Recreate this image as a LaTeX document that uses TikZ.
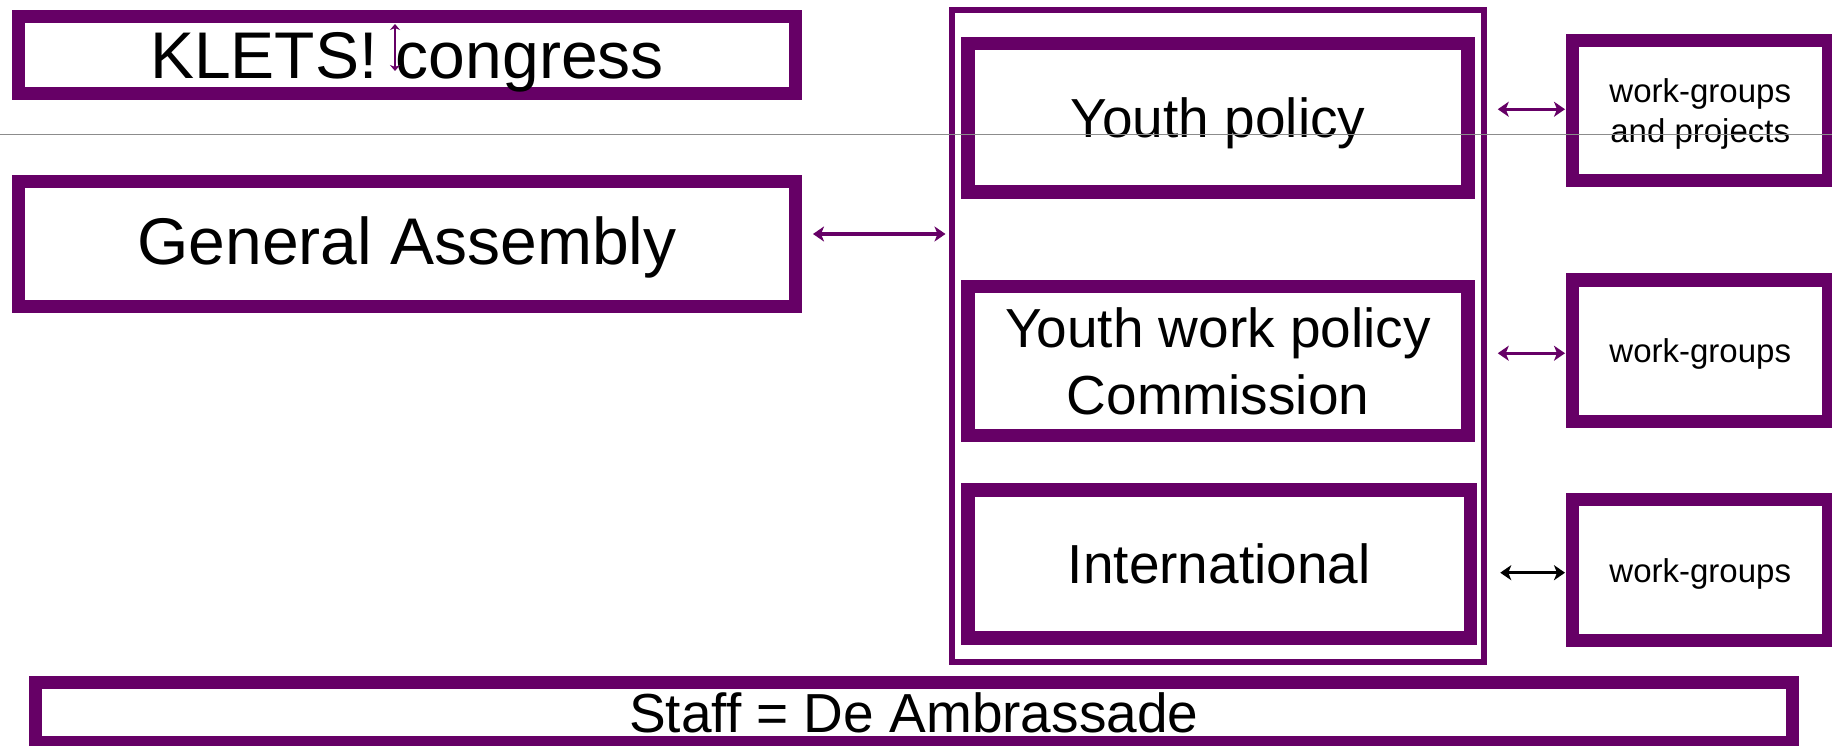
\documentclass[tikz,border=0pt]{standalone}
\usepackage{fontspec}
\setmainfont{Liberation Sans}
\usetikzlibrary{arrows.meta,calc}
\definecolor{klpurple}{HTML}{660066}
\definecolor{klgray}{HTML}{8C8C8C}
\tikzset{
  box/.style={draw=klpurple, line width=13pt, fill=white, rectangle, inner sep=0pt, align=center, text=black},
  bigtext/.style={font=\fontsize{66}{79}\selectfont, text height=47.3pt, text depth=0pt},
  midtext/.style={font=\fontsize{55}{67}\selectfont, text height=39.4pt, text depth=0pt},
  midtwo/.style={font=\fontsize{55}{67}\selectfont, text height=106.4pt, text depth=0pt},
  smalltext/.style={font=\fontsize{33}{40}\selectfont, text height=23.6pt, text depth=0pt},
  smalltwo/.style={font=\fontsize{33}{40}\selectfont, text height=63.6pt, text depth=0pt},
  link/.style={draw=klpurple, line width=3.2pt, {Stealth[length=11pt,width=15pt,inset=3pt]}-{Stealth[length=11pt,width=15pt,inset=3pt]}},
}
\begin{document}
\begin{tikzpicture}[x=1pt,y=-1pt]
\fill[white] (0,0) rectangle (1832,746);
\useasboundingbox (0,0) rectangle (1832,746);

\node[box, bigtext, minimum width=777pt, minimum height=77.5pt] (klets) at (407,55.25) {KLETS! congress};
\node[box, bigtext, text height=40.9pt, minimum width=777pt, minimum height=125pt] (ga) at (407,244) {General Assembly};

\node[box, line width=6pt, fill=none, minimum width=532pt, minimum height=652pt] (cont) at (1218,336) {};
\node[box, midtext, line width=13.5pt, minimum width=500pt, minimum height=148.5pt] (yp) at (1218,117.75) {Youth policy};
\node[box, midtwo, line width=13.5pt, minimum width=500pt, minimum height=149pt] (ywp) at (1218,361) {Youth work policy\\Commission};
\node[box, midtext, line width=13.5pt, minimum width=502.5pt, minimum height=148pt] (intl) at (1219.25,563.9) {International};

\node[box, smalltwo, minimum width=255.5pt, minimum height=140.5pt] (wg1) at (1700.25,110.75) {work-groups\\and projects};
\node[box, smalltext, minimum width=255.5pt, minimum height=141.5pt] (wg2) at (1700.25,350.75) {work-groups};
\node[box, smalltext, minimum width=255.5pt, minimum height=141pt] (wg3) at (1700.25,570.4) {work-groups};

\node[box, midtext, minimum width=1756.5pt, minimum height=60pt] (staff) at (913.75,712.5) {Staff = De Ambrassade};

\draw[link] ($(ga.east)+(11,-10)$) -- ($(ga.east -| cont.west)+(-3.5,-10)$);
\draw[link] ($(yp.east |- wg1.west)+(23,-1.5)$) -- ($(wg1.west)+(-1,-1.5)$);
\draw[link] ($(ywp.east |- wg2.west)+(23,2.5)$) -- ($(wg2.west)+(-1,2.5)$);
\draw[link, draw=black] ($(intl.east |- wg3.west)+(23,2.3)$) -- ($(wg3.west)+(-1,2.3)$);

\coordinate (curtop) at (395,24);
\coordinate (curbot) at (395,71);
\draw[draw=klpurple, line width=2.5pt, {Stealth[length=6pt,width=10pt]}-{Stealth[length=6pt,width=10pt]}] (curtop) -- (curbot);

\coordinate (gleft) at (0,134.3);
\coordinate (gright) at (1832,134.3);
\draw[draw=klgray, line width=1.5pt] (gleft) -- (gright);
\end{tikzpicture}
\end{document}
